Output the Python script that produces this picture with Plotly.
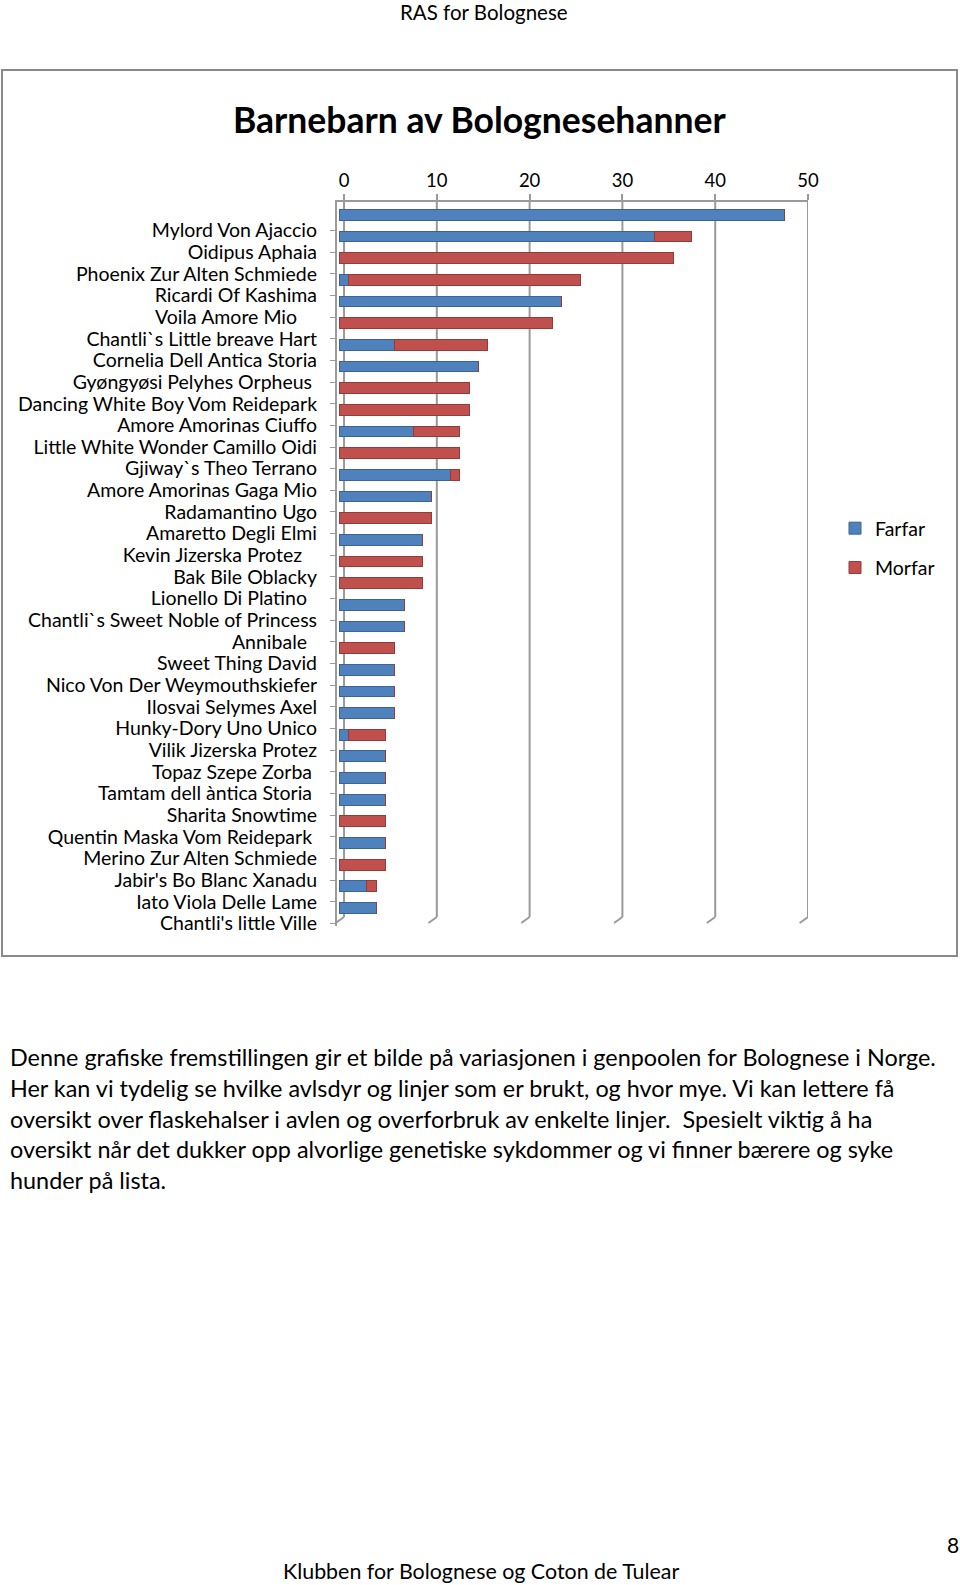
import plotly.graph_objects as go

W, H = 960, 1585

categories = [
    "Mylord Von Ajaccio", "Oidipus Aphaia", "Phoenix Zur Alten Schmiede",
    "Ricardi Of Kashima", "Voila Amore Mio    ", "Chantli`s Little breave Hart",
    "Cornelia Dell Antica Storia", "Gyøngyøsi Pelyhes Orpheus ",
    "Dancing White Boy Vom Reidepark", "Amore Amorinas Ciuffo",
    "Little White Wonder Camillo Oidi", "Gjiway`s Theo Terrano",
    "Amore Amorinas Gaga Mio", "Radamantino Ugo", "Amaretto Degli Elmi",
    "Kevin Jizerska Protez   ", "Bak Bile Oblacky", "Lionello Di Platino  ",
    "Chantli`s Sweet Noble of Princess", "Annibale  ", "Sweet Thing David",
    "Nico Von Der Weymouthskiefer", "Ilosvai Selymes Axel", "Hunky-Dory Uno Unico",
    "Vilik Jizerska Protez", "Topaz Szepe Zorba ", "Tamtam dell àntica Storia ",
    "Sharita Snowtime", "Quentin Maska Vom Reidepark ", "Merino Zur Alten Schmiede",
    "Jabir's Bo Blanc Xanadu", "Iato Viola Delle Lame", "Chantli's little Ville",
]
farfar = [48, 34, 0, 1, 24, 0, 6, 15, 0, 0, 8, 0, 12, 10, 0, 9, 0, 0,
          7, 7, 0, 6, 6, 6, 1, 5, 5, 5, 0, 5, 0, 3, 4]
morfar = [0, 4, 36, 25, 0, 23, 10, 0, 14, 14, 5, 13, 1, 0, 10, 0, 9, 9,
          0, 0, 6, 0, 0, 0, 4, 0, 0, 0, 5, 0, 5, 1, 0]
x_ticks = [0, 10, 20, 30, 40, 50]
series_names = ["Farfar", "Morfar"]
colors = ["#4F81BD", "#C0504D"]
edge_colors = ["#3A6494", "#943B38"]

title_text = "Barnebarn av Bolognesehanner"
header_text = "RAS for Bolognese"
footer_text = "Klubben for Bolognese og Coton de Tulear"
page_no = "8"
paragraph_lines = [
    "Denne grafiske fremstillingen gir et bilde på variasjonen i genpoolen for Bolognese i Norge.",
    "Her kan vi tydelig se hvilke avlsdyr og linjer som er brukt, og hvor mye. Vi kan lettere få",
    "oversikt over flaskehalser i avlen og overforbruk av enkelte linjer.  Spesielt viktig å ha",
    "oversikt når det dukker opp alvorlige genetiske sykdommer og vi finner bærere og syke",
    "hunder på lista.",
]

FONT = "Lato"
# trailing spaces in the original labels are kept visible as non-breaking spaces
labels = [c.rstrip(" ") + "\u00a0" * (len(c) - len(c.rstrip(" "))) for c in categories]


def py(px):
    return 1 - px / H


def pxx(px):
    return px / W


# pixel geometry
x_left, x_right = 336.7, 808.0
y_top, y_bot = 202.0, 926.0
step = 21.66
lab0 = 230.4
xmin = -0.79
xspan = 50 - xmin
r_top = (y_top - lab0) / step
r_bot = (y_bot - lab0) / step

bar_w = 0.5
bar_center_shift = -15.0 / step
bar_offset = bar_center_shift - bar_w / 2
bar_shift_units = (339.3 - x_left) / ((x_right - x_left) / xspan)

fig = go.Figure()
for name, vals, col, ec in zip(series_names, [farfar, morfar], colors, edge_colors):
    fig.add_trace(go.Bar(
        y=labels, x=vals, name=name, orientation="h",
        marker=dict(color=col, line=dict(color=ec, width=1)),
        width=bar_w, offset=bar_offset,
        xaxis="x2", yaxis="y", legendgroup=name,
    ))

shapes = []
grid_col = "#9a9a9a"
for v in x_ticks:
    shapes.append(dict(type="line", xref="x", yref="paper", x0=v, x1=v,
                       y0=py(y_top), y1=py(917), line=dict(color=grid_col, width=2), layer="below"))
    shapes.append(dict(type="line", xref="x", yref="paper", x0=v, x1=v - 0.9,
                       y0=py(917), y1=py(923), line=dict(color=grid_col, width=2), layer="below"))
# chart frame
shapes.append(dict(type="rect", xref="paper", yref="paper", x0=pxx(2), x1=pxx(957),
                   y0=py(956), y1=py(70), line=dict(color="#8a8a8a", width=2)))


def ann(text, x, y, size, xanchor="center", bold=False):
    return dict(text=("<b>%s</b>" % text) if bold else text, x=pxx(x), y=py(y),
                xref="paper", yref="paper", xanchor=xanchor, yanchor="middle",
                showarrow=False, font=dict(family=FONT, size=size, color="#000"))


annotations = [
    ann(header_text, 484, 12, 20.5),
    ann(title_text, 479, 119, 35.5, bold=True),
    ann(footer_text, 481, 1571, 21.4),
    ann(page_no, 953, 1544, 21),
]
for i, line in enumerate(paragraph_lines):
    annotations.append(ann(line, 8, 1057 + i * 30.8, 23.4, xanchor="left"))

fig.update_layout(
    width=W, height=H, margin=dict(l=0, r=0, t=0, b=0, autoexpand=False),
    paper_bgcolor="white", plot_bgcolor="rgba(0,0,0,0)",
    barmode="stack", bargap=0,
    font=dict(family=FONT, color="#000"),
    xaxis=dict(domain=[pxx(x_left), pxx(x_right)], range=[xmin, 50], side="top",
               tickvals=x_ticks, showgrid=False, zeroline=False,
               showline=True, linecolor=grid_col, linewidth=1.5,
               ticks="outside", ticklen=6, tickcolor=grid_col, tickwidth=1.5,
               tickfont=dict(family=FONT, size=18.5, color="#000"), anchor="y"),
    xaxis2=dict(domain=[pxx(x_left), pxx(x_right)], range=[-bar_shift_units, xspan - bar_shift_units],
                overlaying="x", visible=False, anchor="y"),
    yaxis=dict(domain=[py(y_bot), py(y_top)], range=[r_bot, r_top], type="category",
               categoryorder="array", categoryarray=labels,
               tickmode="array", tickvals=labels, ticktext=labels,
               showgrid=False, zeroline=False, showline=True, linecolor=grid_col, linewidth=1.5,
               ticks="outside", ticklen=5, tickcolor=grid_col, tickwidth=1.2,
               ticklabelstandoff=9,
               tickfont=dict(family=FONT, size=19.5, color="#000"), anchor="x"),
    legend=dict(x=pxx(835), y=py(509), xanchor="left", yanchor="top",
                font=dict(family=FONT, size=19.5, color="#000"),
                traceorder="grouped", tracegroupgap=11, bgcolor="rgba(0,0,0,0)"),
    shapes=shapes, annotations=annotations,
)

fig.write_html("out.html")
